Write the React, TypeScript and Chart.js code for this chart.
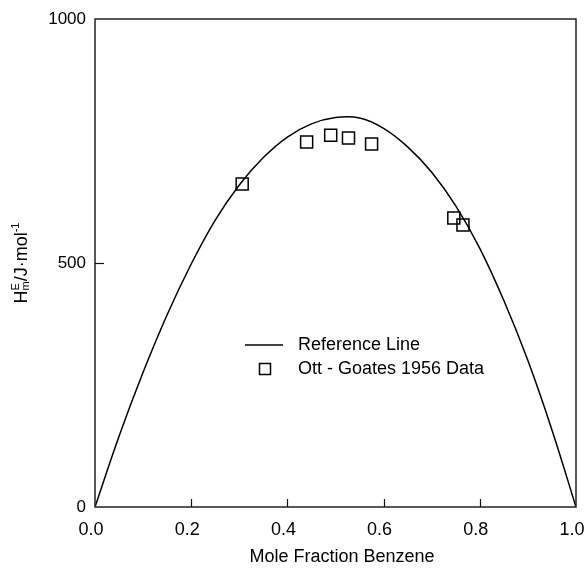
import React, { useEffect, useRef } from "react";
import { Chart, registerables } from "chart.js";

Chart.register(...registerables);

// Reference line (mole fraction benzene vs H^E / J·mol⁻¹)
const curveX = [0, 0.05, 0.1, 0.15, 0.2, 0.25, 0.3, 0.35, 0.4, 0.45, 0.5, 0.55, 0.6, 0.65, 0.7, 0.75, 0.8, 0.85, 0.9, 0.95, 1.0];
const curveHE = [0, 145, 276, 394, 498, 588, 660, 716, 758, 785, 798, 797, 776, 738, 686, 617, 530, 423, 300, 158, 0];

// Ott - Goates 1956 data points
const ottX = [0.306, 0.44, 0.49, 0.527, 0.575, 0.746, 0.765];
const ottHE = [662, 748, 762, 756, 744, 592, 578];

const xTickValues = [0.2, 0.4, 0.6, 0.8];
const yTickValues = [500];

const seriesLabels = ["Reference Line", "Ott - Goates 1956 Data"];
const xTitle = "Mole Fraction Benzene";

const FONT = "'Liberation Sans', Arial, Helvetica, sans-serif";

const overlay = {
  id: "overlay",
  afterDraw(chart: any) {
    const { ctx, chartArea, scales } = chart;
    const { left, right, top, bottom } = chartArea;
    const x = scales.x;
    const y = scales.y;
    ctx.save();
    // frame
    ctx.strokeStyle = "#222";
    ctx.lineWidth = 1.5;
    ctx.strokeRect(left, top, right - left, bottom - top);
    // inward ticks
    ctx.lineWidth = 1.2;
    ctx.strokeStyle = "#111";
    xTickValues.forEach((v) => {
      const px = Math.round(x.getPixelForValue(v)) + 0.5;
      ctx.beginPath();
      ctx.moveTo(px, bottom);
      ctx.lineTo(px, bottom - 8);
      ctx.stroke();
    });
    yTickValues.forEach((v) => {
      const py = Math.round(y.getPixelForValue(v)) + 0.5;
      ctx.beginPath();
      ctx.moveTo(left, py);
      ctx.lineTo(left + 9, py);
      ctx.stroke();
    });

    // legend
    ctx.fillStyle = "#000";
    ctx.font = `18px ${FONT}`;
    ctx.textBaseline = "middle";
    ctx.textAlign = "left";
    ctx.strokeStyle = "#000";
    ctx.lineWidth = 1.3;
    ctx.beginPath();
    ctx.moveTo(245, 345);
    ctx.lineTo(283, 345);
    ctx.stroke();
    ctx.fillText(seriesLabels[0], 298, 345);
    ctx.lineWidth = 1.5;
    ctx.strokeRect(259.5, 363.5, 11, 11);
    ctx.fillText(seriesLabels[1], 298, 369);

    // x title
    ctx.textAlign = "center";
    ctx.font = `18px ${FONT}`;
    ctx.fillText(xTitle, 342, 557);

    // y title: H^E_m / J·mol^-1
    ctx.translate(22, 263);
    ctx.rotate(-Math.PI / 2);
    const big = `18px ${FONT}`;
    const small = `11px ${FONT}`;
    const parts: { t: string; f: string; dy: number; adv: boolean }[] = [
      { t: "H", f: big, dy: 0, adv: true },
      { t: "E", f: small, dy: -6, adv: false },
      { t: "m", f: small, dy: 4, adv: true },
      { t: "/J·mol", f: big, dy: 0, adv: true },
      { t: "-1", f: small, dy: -6, adv: true },
    ];
    let total = 0;
    let pendingW = 0;
    parts.forEach((p) => {
      ctx.font = p.f;
      const w = ctx.measureText(p.t).width;
      if (p.adv) {
        total += Math.max(w, pendingW);
        pendingW = 0;
      } else pendingW = w;
    });
    let cx = -total / 2;
    ctx.textAlign = "left";
    pendingW = 0;
    parts.forEach((p) => {
      ctx.font = p.f;
      const w = ctx.measureText(p.t).width;
      ctx.fillText(p.t, cx, p.dy);
      if (p.adv) {
        cx += Math.max(w, pendingW);
        pendingW = 0;
      } else pendingW = w;
    });
    ctx.restore();
  },
};

export default function App() {
  const ref = useRef<HTMLCanvasElement | null>(null);
  useEffect(() => {
    if (!ref.current) return;
    const chart = new Chart(ref.current, {
      type: "scatter",
      data: {
        datasets: [
          {
            type: "line",
            label: seriesLabels[0],
            data: curveX.map((v, i) => ({ x: v, y: curveHE[i] })),
            borderColor: "#000",
            borderWidth: 1.5,
            pointRadius: 0,
            tension: 0.4,
            fill: false,
          } as any,
          {
            label: seriesLabels[1],
            data: ottX.map((v, i) => ({ x: v, y: ottHE[i] })),
            pointStyle: "rect",
            pointRadius: 8.5,
            pointBackgroundColor: "rgba(255,255,255,0)",
            pointBorderColor: "#000",
            pointBorderWidth: 1.5,
          },
        ],
      },
      options: {
        responsive: false,
        animation: false,
        layout: { padding: { left: 0, right: 12, top: 19, bottom: 0 } },
        plugins: { legend: { display: false }, tooltip: { enabled: false } },
        scales: {
          x: {
            type: "linear",
            min: 0,
            max: 1,
            grid: { display: false, drawTicks: false },
            border: { display: false },
            ticks: {
              stepSize: 0.2,
              color: "#000",
              font: { family: FONT, size: 18 },
              padding: 12,
              maxRotation: 0,
              labelOffset: -4,
              callback: (v: any) => Number(v).toFixed(1),
            },
            afterFit: (s: any) => {
              s.height = 62;
              s.paddingLeft = 0;
              s.paddingRight = 0;
            },
          },
          y: {
            type: "linear",
            min: 0,
            max: 1000,
            grid: { display: false, drawTicks: false },
            border: { display: false },
            ticks: {
              stepSize: 500,
              color: "#000",
              font: { family: FONT, size: 17 },
              padding: 9,
              callback: (v: any) => String(v),
            },
            afterFit: (s: any) => {
              s.width = 95;
              s.paddingTop = 0;
              s.paddingBottom = 0;
            },
          },
        },
      },
      plugins: [overlay],
    });
    return () => chart.destroy();
  }, []);
  return (
    <div style={{ position: "absolute", left: 0, top: 0, width: 588, height: 569, background: "#fff" }}>
      <canvas ref={ref} width={588} height={569} />
    </div>
  );
}
